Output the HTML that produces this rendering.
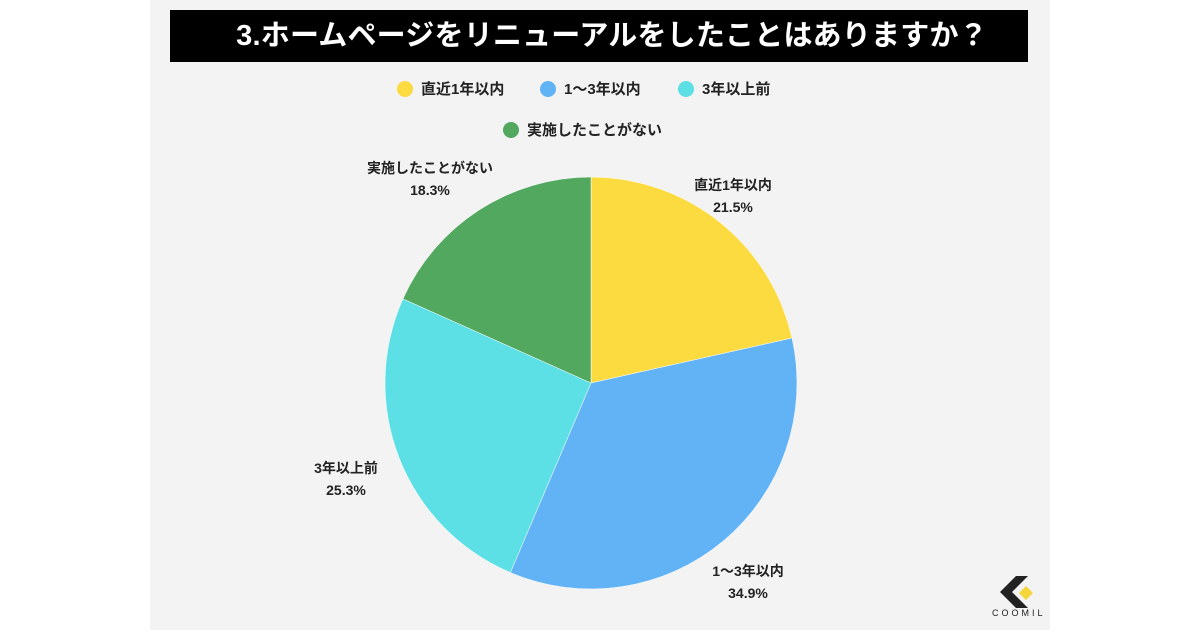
<!DOCTYPE html>
<html><head><meta charset="utf-8"><style>
body{margin:0;width:1200px;height:630px;background:#fff;overflow:hidden;font-family:"Liberation Sans","Noto Sans CJK JP",sans-serif}
#panel{position:absolute;left:150px;top:0;width:900px;height:630px;background:#f3f3f3}
#title{position:absolute;left:170px;top:10px;width:858px;height:52px;background:#000;color:#fff;font-weight:bold;font-size:29px;line-height:52px;text-align:center;text-indent:26px;letter-spacing:0.2px}
.leg{position:absolute;font-size:15px;font-weight:bold;color:#222;line-height:20px;white-space:nowrap}
.leg i{display:inline-block;width:16px;height:16px;border-radius:50%;vertical-align:-3px;margin-right:8px}
svg{position:absolute;left:0;top:0}
</style></head><body>
<div id="panel"></div>
<div id="title">3.ホームページをリニューアルをしたことはありますか？</div>
<div class="leg" style="left:397px;top:80px"><i style="background:#fcdb40"></i>直近1年以内</div>
<div class="leg" style="left:540px;top:80px"><i style="background:#62b3f5"></i>1〜3年以内</div>
<div class="leg" style="left:678px;top:80px"><i style="background:#5ce0e6"></i>3年以上前</div>
<div class="leg" style="left:503px;top:121px"><i style="background:#52a85f"></i>実施したことがない</div>
<svg width="1200" height="630" id="chart"></svg>
<div style="position:absolute;left:990px;top:572px">
<svg width="60" height="50" style="position:relative"><polygon points="26,4 38,4 22,20 38,36 26,36 10,20" fill="#222"/><polygon points="36,14 43,21 36,28 29,21" fill="#f5d63a"/></svg>
<div style="position:absolute;left:2px;top:36px;font-size:9px;letter-spacing:3px;color:#222">COOMIL</div></div>
<script>
const categories=["直近1年以内","1〜3年以内","3年以上前","実施したことがない"];
const values=[21.5,34.9,25.3,18.3];
const colors=["#fcdb40","#62b3f5","#5ce0e6","#52a85f"];
const labelPos=[[733,184],[748,570],[346,467],[430,167]];
const svg=document.getElementById('chart');
const NS="http://www.w3.org/2000/svg";
const cx=591,cy=383,r=206;
const total=values.reduce((a,b)=>a+b,0);
let a0=-Math.PI/2;
values.forEach((v,i)=>{
  const a1=a0+v/total*2*Math.PI;
  const x0=cx+r*Math.cos(a0),y0=cy+r*Math.sin(a0),x1=cx+r*Math.cos(a1),y1=cy+r*Math.sin(a1);
  const p=document.createElementNS(NS,'path');
  p.setAttribute('d',`M${cx},${cy}L${x0},${y0}A${r},${r} 0 ${a1-a0>Math.PI?1:0} 1 ${x1},${y1}Z`);
  p.setAttribute('fill',colors[i]);p.setAttribute('stroke','#fff');p.setAttribute('stroke-width','0.5');
  
  
  svg.appendChild(p);
  const [lx,ly]=labelPos[i];
  [categories[i],v.toFixed(1)+'%'].forEach((s,k)=>{
    const t=document.createElementNS(NS,'text');
    t.setAttribute('x',lx);t.setAttribute('y',ly+k*22+6);
    t.setAttribute('text-anchor','middle');t.setAttribute('font-size','14');t.setAttribute('font-weight','bold');t.setAttribute('fill','#222');
    t.setAttribute('font-family','"Liberation Sans","Noto Sans CJK JP",sans-serif');
    t.textContent=s;
    
    
    svg.appendChild(t);
  });
  a0=a1;
});
</script>
</body></html>
